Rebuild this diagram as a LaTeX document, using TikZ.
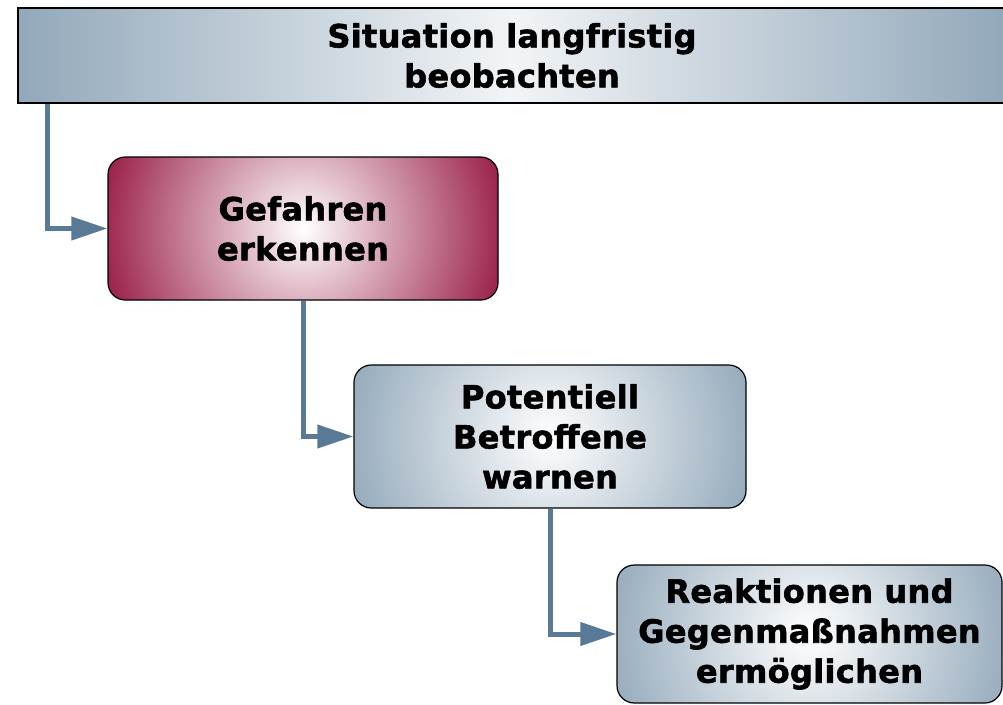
\documentclass[tikz,border=0pt]{standalone}
\usepackage{fontspec}
\setmainfont{DejaVu Sans}[LetterSpace=1, BoldFeatures={FakeBold=1.8}]
\usetikzlibrary{arrows.meta}

\definecolor{boxblue}{RGB}{146,168,186}
\definecolor{boxred}{RGB}{156,36,76}
\definecolor{flowblue}{RGB}{88,122,150}

\pgfdeclareradialshading{glowblue}{\pgfpointorigin}{color(0bp)=(white); color(19bp)=(boxblue); color(50bp)=(boxblue)}
\pgfdeclareradialshading{glowred}{\pgfpointorigin}{color(0bp)=(white); color(18bp)=(boxred); color(50bp)=(boxred)}

\begin{document}
\begin{tikzpicture}[
  x=0.75pt,
  y=-0.75pt,
  boxtext/.style={
    font=\bfseries\fontsize{24}{30}\selectfont,
    align=center,
    text=black,
    inner sep=0pt
  },
  headbar/.style={
    boxtext,
    draw=black,
    line width=1.2pt,
    left color=boxblue,
    right color=boxblue,
    middle color=white!88!boxblue,
    minimum width=741pt,
    minimum height=71.25pt
  },
  stepbox/.style={
    boxtext,
    draw=black,
    line width=0.9pt,
    rounded corners=13pt,
    minimum height=107.25pt
  },
  redglow/.style={path picture={
    \shade[shading=glowred] (path picture bounding box.center) circle (210pt);}},
  blueglow/.style={path picture={
    \shade[shading=glowblue] (path picture bounding box.center) circle (210pt);}},
  flow/.style={
    draw=flowblue,
    line width=3.75pt,
    -{Triangle[length=27pt, width=17pt]}
  }
]

\clip (0,0) rectangle (1003,704);
\fill[white] (0,0) rectangle (1003,704);

% Long-term watch runs across the whole top.
\node[headbar] (watch) at (512,55.5) {Situation langfristig\\beobachten};

\node[stepbox, redglow, minimum width=292.5pt] (danger) at (303,228.5)
  {Gefahren\\erkennen};
\node[stepbox, blueglow, minimum width=294pt] (warn) at (550,436.5)
  {Potentiell\\Betroffene\\warnen};
\node[stepbox, blueglow, minimum width=288.75pt, minimum height=103.5pt] (react) at (809.5,634)
  {Reaktionen und\\Gegenmaßnahmen\\ermöglichen};

% Stair-step connectors.
\draw[flow] ([xshift=22.5pt]watch.south west) |- (danger.west);
\draw[flow] (danger.south) |- (warn.west);
\draw[flow] (warn.south) |- (react.west);

\end{tikzpicture}
\end{document}
